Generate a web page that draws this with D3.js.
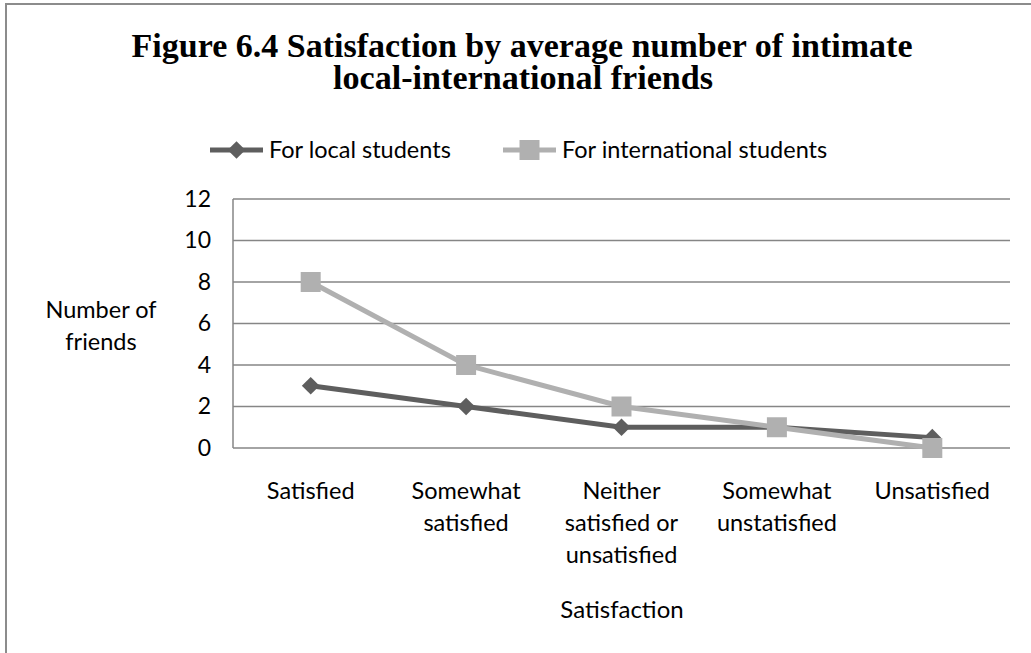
<!DOCTYPE html>
<html>
<head>
<meta charset="utf-8">
<script src="https://cdn.jsdelivr.net/npm/d3@7"></script>
<style>
  body { margin: 0; background: #fff; }
  svg { display: block; }
</style>
</head>
<body>
<div id="chart"></div>
<script>
// categories and values
var categories = [
    ["Satisfied"],
    ["Somewhat", "satisfied"],
    ["Neither", "satisfied or", "unsatisfied"],
    ["Somewhat", "unstatisfied"],
    ["Unsatisfied"]
];
var localValues = [3, 2, 1, 1, 0.5];
var intlValues = [8, 4, 2, 1, 0];
var yTicks = [0, 2, 4, 6, 8, 10, 12];
var seriesNames = ["For local students", "For international students"];

var W = 1031, H = 653;
var plot = {left: 233, right: 1010, top: 199, bottom: 448};
var sans = "Lato, 'Open Sans', sans-serif";
var colLocal = "#5e5e5e", colIntl = "#b0b0b0", gridCol = "#868686";

var svg = d3.select("#chart").append("svg")
    .attr("width", W)
    .attr("height", H);

// outer frame (only left and top edges show in the crop)
svg.append("rect")
    .attr("x", 6).attr("y", 4)
    .attr("width", W + 20).attr("height", H + 20)
    .attr("fill", "#fff")
    .attr("stroke", "#8c8c8c")
    .attr("stroke-width", 2);

// title
var title = svg.append("text")
    .attr("text-anchor", "middle")
    .attr("font-family", "'Liberation Serif', 'Times New Roman', serif")
    .attr("font-weight", "bold")
    .attr("font-size", 33)
    .attr("fill", "#000");
title.append("tspan").attr("x", 522).attr("y", 57)
    .attr("textLength", 781).attr("lengthAdjust", "spacingAndGlyphs")
    .text("Figure 6.4 Satisfaction by  average number  of intimate");
title.append("tspan").attr("x", 523).attr("y", 89)
    .attr("textLength", 380).attr("lengthAdjust", "spacingAndGlyphs")
    .text("local-international friends");

var x = d3.scaleBand()
    .domain(d3.range(categories.length))
    .range([plot.left, plot.right]);
var y = d3.scaleLinear()
    .domain([0, 12])
    .range([plot.bottom, plot.top]);

// gridlines
svg.append("g")
    .selectAll("line")
    .data(yTicks)
    .enter()
    .append("line")
        .attr("x1", plot.left).attr("x2", plot.right)
        .attr("y1", function(d) { return y(d); })
        .attr("y2", function(d) { return y(d); })
        .attr("stroke", gridCol)
        .attr("stroke-width", 1.5);

// left axis line
svg.append("line")
    .attr("x1", plot.left).attr("x2", plot.left)
    .attr("y1", plot.top).attr("y2", plot.bottom)
    .attr("stroke", gridCol)
    .attr("stroke-width", 1.5);

// y tick labels
var yAxis = d3.axisLeft(y).tickValues(yTicks).tickSize(0).tickPadding(22);
var gy = svg.append("g")
    .attr("transform", "translate(" + plot.left + ",0)")
    .call(yAxis);
gy.select(".domain").remove();
gy.selectAll("text")
    .attr("font-family", sans)
    .attr("font-size", 23)
    .attr("fill", "#000");

// y axis title
var yTitle = svg.append("text")
    .attr("text-anchor", "middle")
    .attr("font-family", sans)
    .attr("font-size", 23.5)
    .attr("fill", "#000");
yTitle.append("tspan").attr("x", 101).attr("y", 318).text("Number of");
yTitle.append("tspan").attr("x", 101).attr("y", 350).text("friends");

// x category labels
svg.append("g")
    .selectAll("text")
    .data(categories)
    .enter()
    .append("text")
        .attr("text-anchor", "middle")
        .attr("font-family", sans)
        .attr("font-size", 23.5)
        .attr("fill", "#000")
        .each(function(d, i) {
            var t = d3.select(this);
            d.forEach(function(line, j) {
                t.append("tspan")
                    .attr("x", x(i) + x.bandwidth() / 2)
                    .attr("y", 499 + j * 32)
                    .text(line);
            });
        });

// x axis title
svg.append("text")
    .attr("x", 622).attr("y", 618)
    .attr("text-anchor", "middle")
    .attr("font-family", sans)
    .attr("font-size", 24)
    .attr("fill", "#000")
    .text("Satisfaction");

var line = d3.line()
    .x(function(d, i) { return x(i) + x.bandwidth() / 2; })
    .y(function(d) { return y(d); });

var diamond = d3.symbol().type(d3.symbolDiamond2).size(200);
var square = d3.symbol().type(d3.symbolSquare).size(400);

// local series
svg.append("path")
    .datum(localValues)
    .attr("d", line)
    .attr("fill", "none")
    .attr("stroke", colLocal)
    .attr("stroke-width", 5);
svg.append("g")
    .selectAll("path")
    .data(localValues)
    .enter()
    .append("path")
        .attr("d", diamond)
        .attr("transform", function(d, i) { return "translate(" + (x(i) + x.bandwidth() / 2) + "," + y(d) + ")"; })
        .attr("fill", colLocal);

// international series
svg.append("path")
    .datum(intlValues)
    .attr("d", line)
    .attr("fill", "none")
    .attr("stroke", colIntl)
    .attr("stroke-width", 5);
svg.append("g")
    .selectAll("path")
    .data(intlValues)
    .enter()
    .append("path")
        .attr("d", square)
        .attr("transform", function(d, i) { return "translate(" + (x(i) + x.bandwidth() / 2) + "," + y(d) + ")"; })
        .attr("fill", colIntl);

// legend
var legendItems = [
    {name: seriesNames[0], color: colLocal, sym: diamond, x0: 210},
    {name: seriesNames[1], color: colIntl, sym: square, x0: 503}
];
var lg = svg.append("g")
    .selectAll("g")
    .data(legendItems)
    .enter()
    .append("g")
        .attr("transform", function(d) { return "translate(" + d.x0 + ",150)"; });
lg.append("line")
    .attr("x1", 0).attr("x2", 53)
    .attr("stroke", function(d) { return d.color; })
    .attr("stroke-width", 5);
lg.append("path")
    .attr("d", function(d) { return d.sym(); })
    .attr("transform", "translate(26.5,0)")
    .attr("fill", function(d) { return d.color; });
lg.append("text")
    .attr("x", 59).attr("y", 8)
    .attr("font-family", sans)
    .attr("font-size", 23.5)
    .attr("fill", "#000")
    .text(function(d) { return d.name; });
</script>
</body>
</html>
